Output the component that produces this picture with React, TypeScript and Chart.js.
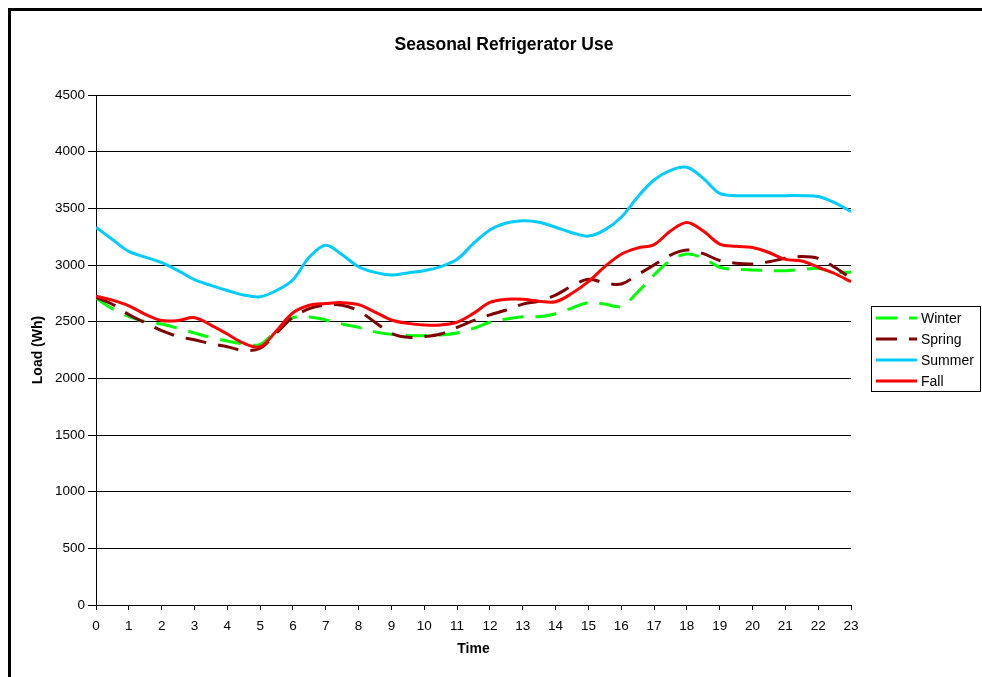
import React, { useEffect, useRef } from 'react';
import { Chart, registerables } from 'chart.js';

Chart.register(...registerables);

const TITLE = 'Seasonal Refrigerator Use';
const X_TITLE = 'Time';
const Y_TITLE = 'Load (Wh)';

const hours = [
  0, 0.5, 1, 1.5, 2, 2.5, 3, 3.5, 4, 4.5, 5, 5.5, 6, 6.5, 7, 7.5, 8, 8.5, 9, 9.5, 10, 10.5, 11, 11.5,
  12, 12.5, 13, 13.5, 14, 14.5, 15, 15.5, 16, 16.5, 17, 17.5, 18, 18.5, 19, 19.5, 20, 20.5, 21, 21.5,
  22, 22.5, 23,
];

const winter = [
  2706, 2615, 2545, 2500, 2479, 2441, 2400, 2360, 2330, 2303, 2300, 2426, 2535, 2542, 2515, 2480,
  2450, 2410, 2388, 2377, 2377, 2382, 2400, 2441, 2495, 2524, 2544, 2544, 2570, 2620, 2668, 2655,
  2635, 2760, 2912, 3040, 3097, 3060, 2980, 2962, 2956, 2950, 2950, 2960, 2971, 2935, 2935,
];

const spring = [
  2715, 2654, 2562, 2490, 2420, 2370, 2340, 2305, 2279, 2246, 2265, 2400, 2538, 2615, 2647, 2645,
  2594, 2495, 2397, 2362, 2368, 2391, 2450, 2509, 2560, 2603, 2655, 2682, 2735, 2815, 2874, 2843,
  2832, 2915, 3000, 3088, 3132, 3100, 3040, 3015, 3009, 3029, 3059, 3074, 3059, 2980, 2882,
];

const summer = [
  3333, 3225, 3120, 3070, 3020, 2950, 2870, 2820, 2775, 2735, 2720, 2775, 2870, 3070, 3175, 3090,
  2985, 2935, 2912, 2930, 2950, 2985, 3050, 3190, 3309, 3370, 3391, 3378, 3333, 3285, 3255, 3310,
  3421, 3600, 3750, 3835, 3862, 3765, 3632, 3612, 3612, 3612, 3612, 3612, 3605, 3550, 3471,
];

const fall = [
  2725, 2690, 2640, 2565, 2510, 2510, 2535, 2470, 2391, 2310, 2279, 2420, 2579, 2645, 2660, 2668,
  2650, 2585, 2515, 2485, 2471, 2471, 2495, 2573, 2670, 2697, 2697, 2680, 2676, 2750, 2853, 2985,
  3095, 3150, 3180, 3300, 3376, 3300, 3185, 3165, 3155, 3110, 3050, 3035, 2980, 2925, 2853,
];

const seriesNames = ['Winter', 'Spring', 'Summer', 'Fall'];
const seriesValues = [winter, spring, summer, fall];
const seriesColors = ['#00FF00', '#800000', '#00CCFF', '#FF0000'];
const seriesDashed = [true, true, false, false];

const X_MIN = 0;
const X_MAX = 23;
const Y_MIN = 0;
const Y_MAX = 4500;
const Y_STEP = 500;

const FONT = 'Arial, "Liberation Sans", sans-serif';
const W = 974;
const H = 669;
const DASH = [21, 12];

const decorPlugin = {
  id: 'decor',
  beforeDraw(chart: any) {
    const ctx = chart.ctx;
    ctx.save();
    ctx.fillStyle = '#ffffff';
    ctx.fillRect(0, 0, chart.width, chart.height);
    ctx.restore();
  },
  afterDraw(chart: any) {
    const ctx = chart.ctx;
    ctx.save();
    // outer frame (top and left edges visible)
    ctx.fillStyle = '#000';
    ctx.fillRect(0, 0, 3, chart.height);
    ctx.fillRect(0, 0, chart.width, 3);

    // title
    ctx.font = 'bold 17.5px ' + FONT;
    ctx.textAlign = 'center';
    ctx.textBaseline = 'middle';
    ctx.fillStyle = '#000';
    ctx.fillText(TITLE, 496, 37);

    // legend
    const bx = 863.5;
    const by = 298.5;
    const bw = 109;
    const bh = 85;
    ctx.strokeStyle = '#000';
    ctx.lineWidth = 1;
    ctx.strokeRect(bx, by, bw, bh);
    ctx.font = '14px ' + FONT;
    ctx.textAlign = 'left';
    ctx.textBaseline = 'middle';
    seriesNames.forEach((name, i) => {
      const y = 310 + i * 21;
      ctx.beginPath();
      ctx.setLineDash(seriesDashed[i] ? DASH : []);
      ctx.strokeStyle = seriesColors[i];
      ctx.lineWidth = 3;
      ctx.moveTo(868, y);
      ctx.lineTo(909, y);
      ctx.stroke();
      ctx.setLineDash([]);
      ctx.fillStyle = '#000';
      ctx.fillText(name, 913, y + 1);
    });
    ctx.restore();
  },
};

export default function App() {
  const ref = useRef<HTMLCanvasElement | null>(null);

  useEffect(() => {
    document.body.style.overflow = 'hidden';
    const canvas = ref.current;
    if (!canvas) return;
    Chart.defaults.color = '#000';
    const datasets = seriesNames.map((name, i) => ({
      label: name,
      data: hours.map((h, j) => ({ x: h, y: seriesValues[i][j] })),
      borderColor: seriesColors[i],
      backgroundColor: seriesColors[i],
      borderWidth: 3,
      borderDash: seriesDashed[i] ? DASH : [],
      pointRadius: 0,
      tension: 0.35,
      fill: false,
      order: seriesNames.length - i,
    }));

    const chart = new Chart(canvas, {
      type: 'line',
      data: { datasets },
      plugins: [decorPlugin],
      options: {
        responsive: true,
        maintainAspectRatio: false,
        animation: false,
        devicePixelRatio: 1,
        layout: { padding: { top: 87, left: 0, right: 131, bottom: 0 } },
        plugins: {
          legend: { display: false },
          title: { display: false },
          tooltip: { enabled: false },
        },
        scales: {
          x: {
            type: 'linear',
            min: X_MIN,
            max: X_MAX,
            afterFit: (scale: any) => {
              scale.height = 72;
            },
            border: { display: true, color: '#000', width: 1 },
            grid: {
              display: true,
              drawOnChartArea: false,
              drawTicks: true,
              tickLength: 5,
              color: '#000',
            },
            ticks: {
              stepSize: 1,
              autoSkip: false,
              maxRotation: 0,
              padding: 8,
              color: '#000',
              font: { family: FONT, size: 13.5 },
              callback: (v: any) => String(v),
            },
            title: {
              display: true,
              text: X_TITLE,
              color: '#000',
              font: { family: FONT, size: 14, weight: 'bold' },
              padding: { top: 0, bottom: 19.5 },
            },
          },
          y: {
            type: 'linear',
            min: Y_MIN,
            max: Y_MAX,
            afterFit: (scale: any) => {
              scale.width = 88;
            },
            border: { display: true, color: '#000', width: 1 },
            grid: {
              display: true,
              drawTicks: true,
              tickLength: 8,
              color: '#000',
              lineWidth: 1,
            },
            ticks: {
              stepSize: Y_STEP,
              padding: 3,
              color: '#000',
              font: { family: FONT, size: 13.5 },
              callback: (v: any) => String(v),
            },
            title: {
              display: true,
              text: Y_TITLE,
              color: '#000',
              font: { family: FONT, size: 14, weight: 'bold' },
              padding: { top: 22, bottom: 0 },
            },
          },
        },
      },
    });
    return () => {
      chart.destroy();
    };
  }, []);

  return (
    <div
      style={{
        position: 'fixed',
        left: '8px',
        top: '8px',
        width: W + 'px',
        height: H + 'px',
      }}
    >
      <canvas ref={ref} style={{ display: 'block' }} />
    </div>
  );
}
